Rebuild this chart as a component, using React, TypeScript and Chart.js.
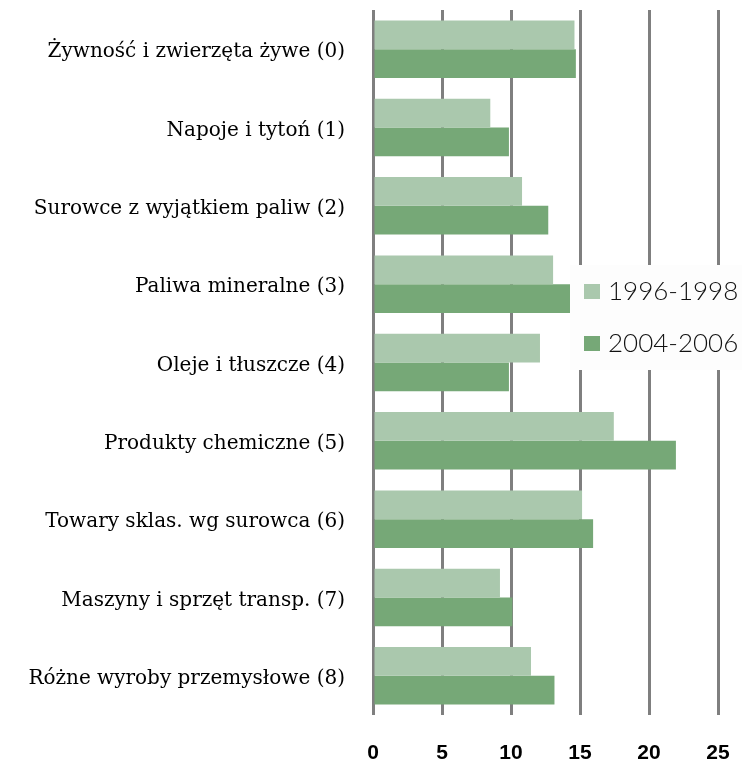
import React, { useEffect, useRef } from "react";
import { Chart, registerables } from "chart.js";

Chart.register(...registerables);

const categories = [
  "Żywność i zwierzęta żywe (0)",
  "Napoje i tytoń (1)",
  "Surowce z wyjątkiem paliw (2)",
  "Paliwa mineralne (3)",
  "Oleje i tłuszcze (4)",
  "Produkty chemiczne (5)",
  "Towary sklas. wg surowca (6)",
  "Maszyny i sprzęt transp. (7)",
  "Różne wyroby przemysłowe (8)",
];
const series1996 = [14.6, 8.5, 10.8, 13.05, 12.1, 17.45, 15.15, 9.2, 11.45];
const series2004 = [14.7, 9.85, 12.7, 14.35, 9.85, 21.95, 15.95, 10.1, 13.15];
const seriesLabels = ["1996-1998", "2004-2006"];
const xTicks = [0, 5, 10, 15, 20, 25];

const LIGHT = "#aac8ad";
const DARK = "#76a877";

const legendPlugin = {
  id: "customLegend",
  afterDraw(chart: any) {
    const ctx = chart.ctx;
    ctx.save();
    ctx.fillStyle = "#fdfdfd";
    ctx.fillRect(570, 265, 172, 105);
    const ys = [291, 343];
    chart.data.datasets.forEach((ds: any, i: number) => {
      ctx.fillStyle = ds.backgroundColor;
      ctx.fillRect(584, ys[i] - 7, 16, 15);
      ctx.fillStyle = "#111";
      ctx.font = "300 26px Lato, 'Open Sans', sans-serif";
      ctx.textBaseline = "middle";
      ctx.textAlign = "left";
      ctx.fillText(ds.label, 608, ys[i] + 1);
    });
    ctx.restore();
  },
};

export default function App() {
  const ref = useRef<HTMLCanvasElement | null>(null);
  useEffect(() => {
    document.body.style.margin = "0";
    const chart = new Chart(ref.current!, {
      type: "bar",
      data: {
        labels: categories,
        datasets: [
          { label: seriesLabels[0], data: series1996, backgroundColor: LIGHT, categoryPercentage: 0.735, barPercentage: 1 },
          { label: seriesLabels[1], data: series2004, backgroundColor: DARK, categoryPercentage: 0.735, barPercentage: 1 },
        ],
      },
      options: {
        indexAxis: "y",
        animation: false,
        responsive: false,
        layout: { padding: { top: 10, right: 24, left: 0, bottom: 0 } },
        plugins: { legend: { display: false }, tooltip: { enabled: false } },
        scales: {
          x: {
            min: 0,
            max: 25,
            afterBuildTicks: (s: any) => { s.ticks = xTicks.map((v) => ({ value: v })); },
            afterFit: (s: any) => { s.height = 50; s.paddingLeft = 0; s.paddingRight = 0; },
            grid: { color: "#7f7f7f", lineWidth: 3, drawTicks: false },
            border: { display: false },
            ticks: { color: "#000", padding: 26, font: { family: "'Liberation Sans', Arial, sans-serif", size: 21, weight: "bold" } },
          },
          y: {
            afterFit: (s: any) => { s.width = 373; s.paddingTop = 0; s.paddingBottom = 0; },
            grid: { display: false, drawTicks: false },
            border: { display: false },
            ticks: { color: "#000", padding: 28, labelOffset: 3, font: { family: "'DejaVu Serif', serif", size: 20 } },
          },
        },
      },
      plugins: [legendPlugin],
    } as any);
    return () => chart.destroy();
  }, []);
  return (
    <div style={{ width: 742, height: 765 }}>
      <canvas ref={ref} width={742} height={765} />
    </div>
  );
}
